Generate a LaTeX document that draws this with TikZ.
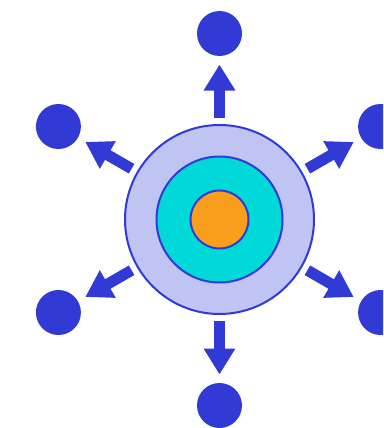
\documentclass[tikz,border=0pt]{standalone}
\usetikzlibrary{arrows.meta,calc}
\definecolor{dblue}{RGB}{50,58,214}
\definecolor{lav}{RGB}{191,196,242}
\definecolor{cyanf}{RGB}{0,217,215}
\definecolor{orangef}{RGB}{250,158,30}
\tikzset{
  ring/.style={circle, draw=dblue, line width=2pt, inner sep=0pt, outer sep=0pt},
  sat/.style={circle, fill=dblue, minimum size=45pt, inner sep=0pt, outer sep=0pt},
  ray/.style={draw=dblue, line width=11pt, -{Triangle[width=30pt,length=26pt]}, shorten <=7pt, shorten >=8.5pt}
}
\begin{document}
\begin{tikzpicture}[x=1pt,y=-1pt]
\useasboundingbox (0,0) rectangle (383,428);
\clip (0,0) rectangle (383,428);
\coordinate (c) at (219.5,219.5);
\node[ring, fill=lav, minimum size=189pt] (outer) at (c) {};
\node[ring, fill=cyanf, minimum size=126pt] (mid) at (c) {};
\node[ring, fill=orangef, minimum size=58pt] (core) at (c) {};
\foreach \a/\n in {90/s1,30/s2,-30/s3,-90/s4,-150/s5,150/s6}{
  \node[sat] (\n) at ($(c)+(\a:186)$) {};
}
\foreach \n in {s1,s2,s3,s4,s5,s6}{
  \draw[ray] (outer) -- (\n);
}
\end{tikzpicture}
\end{document}
